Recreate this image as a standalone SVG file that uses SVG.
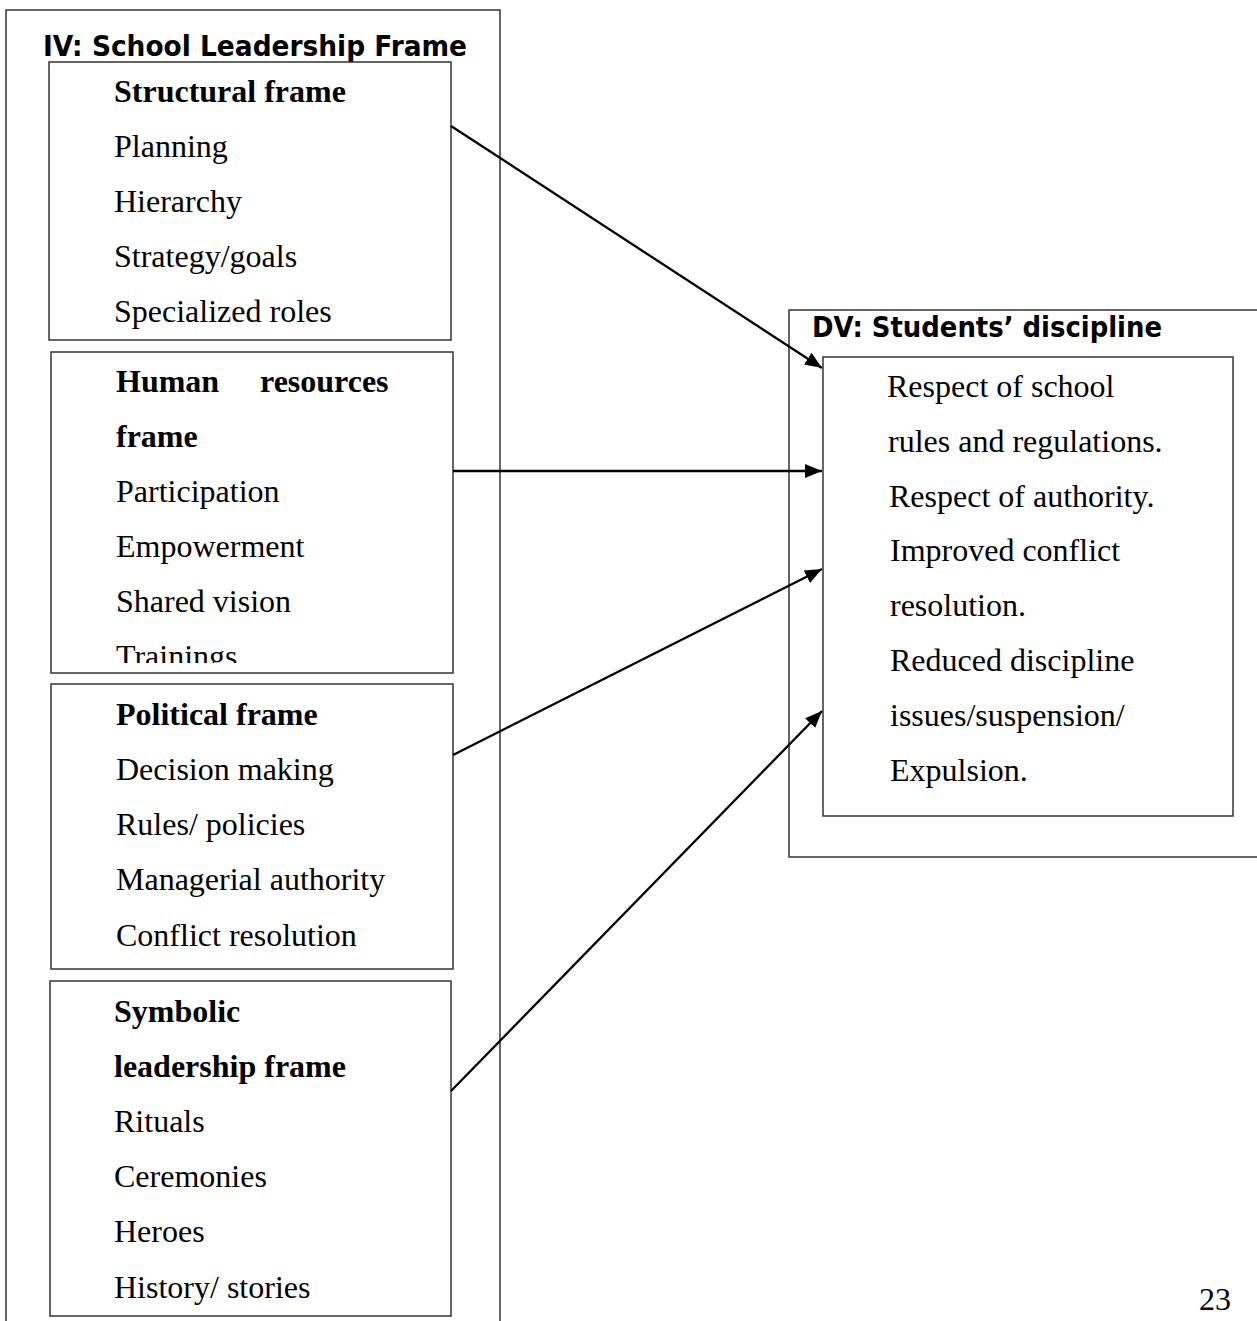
<svg xmlns="http://www.w3.org/2000/svg" width="1257" height="1321" viewBox="0 0 1257 1321">
<style>
.box{fill:none;stroke:#333;stroke-width:1.5}
.t{font-family:"Liberation Serif","Times New Roman",serif;font-size:32px;fill:#000}
.b{font-weight:bold}
.h{font-family:"DejaVu Sans",Verdana,sans-serif;font-weight:bold;font-size:28px;fill:#000}
.conn{stroke:#000;stroke-width:2.3;fill:none}
</style>
<defs>
<marker id="arr" markerUnits="userSpaceOnUse" markerWidth="20" markerHeight="16" refX="17" refY="7" orient="auto">
<path d="M0,0 L17,7 L0,14 z" fill="#000"/>
</marker>
<clipPath id="clipHR"><rect x="51" y="352" width="402" height="311"/></clipPath>
</defs>
<rect width="1257" height="1321" fill="#fff"/>
<g id="iv-frame">
<path class="box" d="M6,1325 V10 H500 V1325"/>
<text class="h" x="43" y="56" textLength="424" lengthAdjust="spacingAndGlyphs">IV: School Leadership Frame</text>
</g>
<g id="structural">
<rect class="box" x="49" y="62" width="402" height="278"/>
<text class="t b" x="114" y="102">Structural frame</text>
<text class="t" x="114" y="157">Planning</text>
<text class="t" x="114" y="212">Hierarchy</text>
<text class="t" x="114" y="267">Strategy/goals</text>
<text class="t" x="114" y="322">Specialized roles</text>
</g>
<g id="human">
<rect class="box" x="51" y="352" width="402" height="321"/>
<text class="t b" x="116" y="392">Human</text>
<text class="t b" x="260" y="392">resources</text>
<text class="t b" x="116" y="447">frame</text>
<text class="t" x="116" y="502">Participation</text>
<text class="t" x="116" y="557">Empowerment</text>
<text class="t" x="116" y="612">Shared vision</text>
<text class="t" x="116" y="667" clip-path="url(#clipHR)">Trainings</text>
</g>
<g id="political">
<rect class="box" x="51" y="684" width="402" height="285"/>
<text class="t b" x="116" y="725">Political frame</text>
<text class="t" x="116" y="780">Decision making</text>
<text class="t" x="116" y="835">Rules/ policies</text>
<text class="t" x="116" y="890">Managerial authority</text>
<text class="t" x="116" y="946">Conflict resolution</text>
</g>
<g id="symbolic">
<rect class="box" x="50" y="981" width="401" height="335"/>
<text class="t b" x="114" y="1022">Symbolic</text>
<text class="t b" x="114" y="1077">leadership frame</text>
<text class="t" x="114" y="1132">Rituals</text>
<text class="t" x="114" y="1187">Ceremonies</text>
<text class="t" x="114" y="1242">Heroes</text>
<text class="t" x="114" y="1298">History/ stories</text>
</g>
<g id="dv-frame">
<path class="box" d="M1260,310 H789 V857 H1260"/>
<text class="h" x="812" y="337" textLength="350" lengthAdjust="spacingAndGlyphs">DV: Students’ discipline</text>
</g>
<g id="discipline">
<rect class="box" x="823" y="357" width="410" height="459"/>
<text class="t" x="887" y="397">Respect of school</text>
<text class="t" x="888" y="452">rules and regulations.</text>
<text class="t" x="889" y="507">Respect of authority.</text>
<text class="t" x="890" y="561">Improved conflict</text>
<text class="t" x="890" y="616">resolution.</text>
<text class="t" x="890" y="671">Reduced discipline</text>
<text class="t" x="890" y="726">issues/suspension/</text>
<text class="t" x="890" y="781">Expulsion.</text>
</g>
<g id="connectors">
<line class="conn" x1="451" y1="126" x2="822" y2="368" marker-end="url(#arr)"/>
<line class="conn" x1="453" y1="471" x2="822" y2="471" marker-end="url(#arr)"/>
<line class="conn" x1="453" y1="755" x2="822" y2="569" marker-end="url(#arr)"/>
<line class="conn" x1="451" y1="1091" x2="822" y2="711" marker-end="url(#arr)"/>
</g>
<text class="t" x="1199" y="1310">23</text>
</svg>
